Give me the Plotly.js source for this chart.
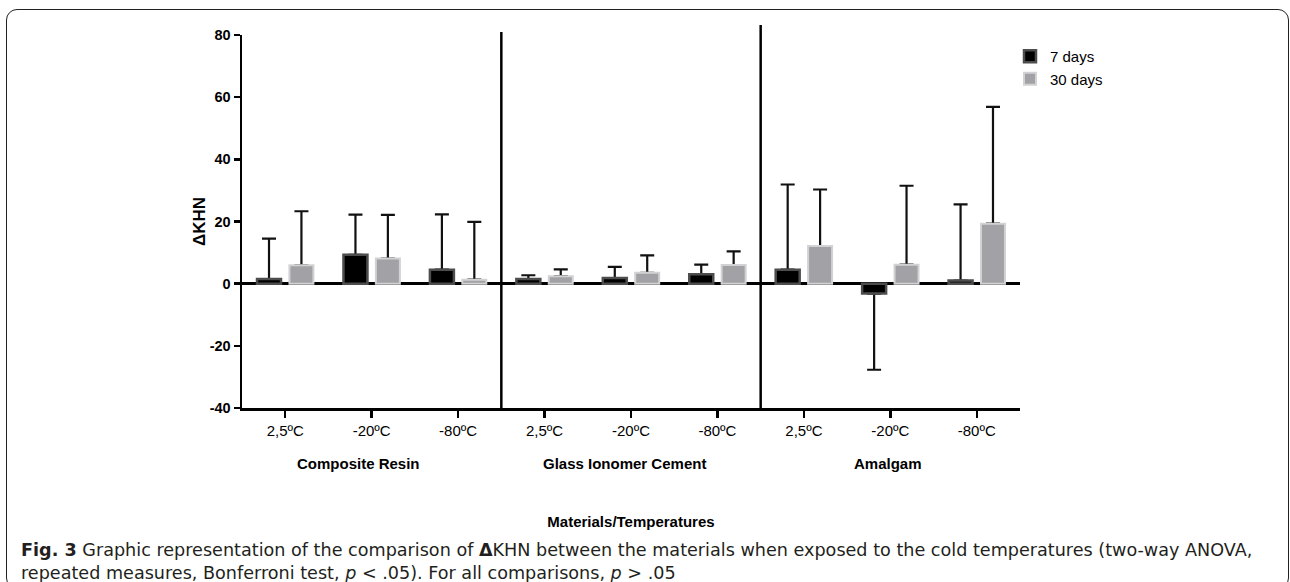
<!DOCTYPE html>
<html>
<head>
<meta charset="utf-8">
<script src="https://cdn.plot.ly/plotly-3.0.1.min.js"></script>
<style>
  html, body { margin: 0; padding: 0; background: #fff; overflow: hidden; }
  #wrap { position: relative; width: 1290px; height: 582px; }
  #chart { position: absolute; left: 0; top: 0; width: 1290px; height: 582px; }
  #frame { position: absolute; left: 6px; top: 9px; width: 1283px; height: 580px;
           border: 1.5px solid #222; border-radius: 11px; pointer-events: none; box-sizing: border-box; }
</style>
</head>
<body>
<div id="wrap">
  <div id="chart"></div>
  <div id="frame"></div>
</div>
<script>
// ---- data ----
const materials = ['Composite Resin', 'Glass Ionomer Cement', 'Amalgam'];
const temperatures = ['2,5ºC', '-20ºC', '-80ºC'];
const seriesNames = ['7 days', '30 days'];
// mean ΔKHN, ordered material by material, temperature by temperature
const days7  = [1.5, 9.3, 4.5,   1.5, 1.8, 3.0,   4.5, -3.2, 1.0];
const days30 = [5.9, 8.1, 1.3,   2.4, 3.5, 6.0,  12.1,  6.1, 19.3];
// error bar length (drawn away from zero)
const err7  = [13.0, 12.9, 17.8,  1.2, 3.6, 3.1,  27.4, 24.5, 24.5];
const err30 = [17.4, 14.0, 18.6,  2.2, 5.6, 4.4,  18.2, 25.4, 37.6];
const yTicks = [-40, -20, 0, 20, 40, 60, 80];
const yTickText = ['-40', '-20', '0', '20', '40', '60', '80'];

// ---- build ----
const tickText = [];
materials.forEach(() => temperatures.forEach(t => tickText.push(t)));
const xIdx = tickText.map((_, i) => i);

function errUp(vals, errs) { return vals.map((v, i) => v >= 0 ? errs[i] : 0); }
function errDown(vals, errs) { return vals.map((v, i) => v < 0 ? errs[i] : 0); }

const FONT = 'Liberation Sans, Arial, sans-serif';

function errTrace(vals, errs, grp) {
  return {
    type: 'bar', x: xIdx, y: vals, offsetgroup: grp, showlegend: false, hoverinfo: 'skip',
    marker: { color: 'rgba(0,0,0,0)', line: { width: 0 } },
    error_y: { type: 'data', symmetric: false, array: errUp(vals, errs), arrayminus: errDown(vals, errs),
               color: '#111', thickness: 2.2, width: 7 }
  };
}

const traces = [
  errTrace(days7, err7, 'd7'),
  errTrace(days30, err30, 'd30'),
  { type: 'bar', name: seriesNames[0], x: xIdx, y: days7, offsetgroup: 'd7',
    marker: { color: '#000000', line: { color: '#4d4d4d', width: 2.5 } } },
  { type: 'bar', name: seriesNames[1], x: xIdx, y: days30, offsetgroup: 'd30',
    marker: { color: '#a2a2a6', line: { color: '#d2d2d4', width: 2 } } }
];

const groupCenters = [0.85, 3.93, 6.97];
const annotations = materials.map((m, i) => ({
  text: m, xref: 'x', yref: 'paper', x: groupCenters[i], y: -0.1475,
  xanchor: 'center', yanchor: 'middle', showarrow: false,
  font: { family: FONT, size: 15, weight: 'bold', color: '#000' }
}));
const caption = '<b>Fig. 3</b> Graphic representation of the comparison of <b>Δ</b>KHN between the materials when exposed to the cold temperatures (two-way ANOVA,' +
  '<br>repeated measures, Bonferroni test, <i>p</i> &lt; .05). For all comparisons, <i>p</i> &gt; .05';
annotations.push({
  text: caption, xref: 'paper', yref: 'paper', x: (19 - 242) / 778, y: (408 - 538) / 373,
  xanchor: 'left', yanchor: 'top', align: 'left', showarrow: false,
  font: { family: 'DejaVu Sans, sans-serif', size: 17.6, color: '#231f20' }
});

const shapes = [[2.5, 32], [5.5, 25]].map(([xv, topPx]) => ({
  type: 'line', xref: 'x', yref: 'paper', x0: xv, x1: xv, y0: 0, y1: (408 - topPx) / 373,
  line: { color: '#000', width: 2.5 }, layer: 'above'
}));

const layout = {
  width: 1290, height: 582,
  margin: { l: 242, r: 270, t: 35, b: 174, pad: 0 },
  paper_bgcolor: 'rgba(0,0,0,0)', plot_bgcolor: 'rgba(0,0,0,0)',
  barmode: 'group', bargap: 0.25, bargroupgap: 0.26,
  font: { family: FONT, color: '#000' },
  xaxis: {
    range: [-0.5, 8.5], tickmode: 'array', tickvals: xIdx, ticktext: tickText,
    showline: true, linecolor: '#000', linewidth: 2.5, mirror: false,
    ticks: 'outside', ticklen: 7, tickwidth: 2.5, tickcolor: '#000',
    tickfont: { family: FONT, size: 15, color: '#000' },
    showgrid: false, zeroline: false, fixedrange: true,
    title: { text: 'Materials/Temperatures', standoff: 79,
             font: { family: FONT, size: 15, weight: 'bold', color: '#000' } }
  },
  yaxis: {
    range: [-40, 80], tickmode: 'array', tickvals: yTicks, ticktext: yTickText,
    showline: true, linecolor: '#000', linewidth: 2.5,
    ticks: 'outside', ticklen: 6, tickwidth: 2.5, tickcolor: '#000',
    tickfont: { family: FONT, size: 14.5, weight: 'bold', color: '#000' },
    showgrid: false, zeroline: true, zerolinecolor: '#000', zerolinewidth: 2.5, fixedrange: true,
    title: { text: 'ΔKHN', standoff: 0, font: { family: FONT, size: 17, weight: 'bold', color: '#000' } }
  },
  legend: {
    x: (1010 - 242) / 778, y: (408 - 40) / 373, xanchor: 'left', yanchor: 'top',
    bgcolor: 'rgba(0,0,0,0)', borderwidth: 0, tracegroupgap: 0, itemwidth: 30,
    font: { family: FONT, size: 15, color: '#000' }
  },
  shapes: shapes,
  annotations: annotations,
  showlegend: true
};

Plotly.newPlot('chart', traces, layout, { displayModeBar: false, staticPlot: true });
</script>
</body>
</html>
